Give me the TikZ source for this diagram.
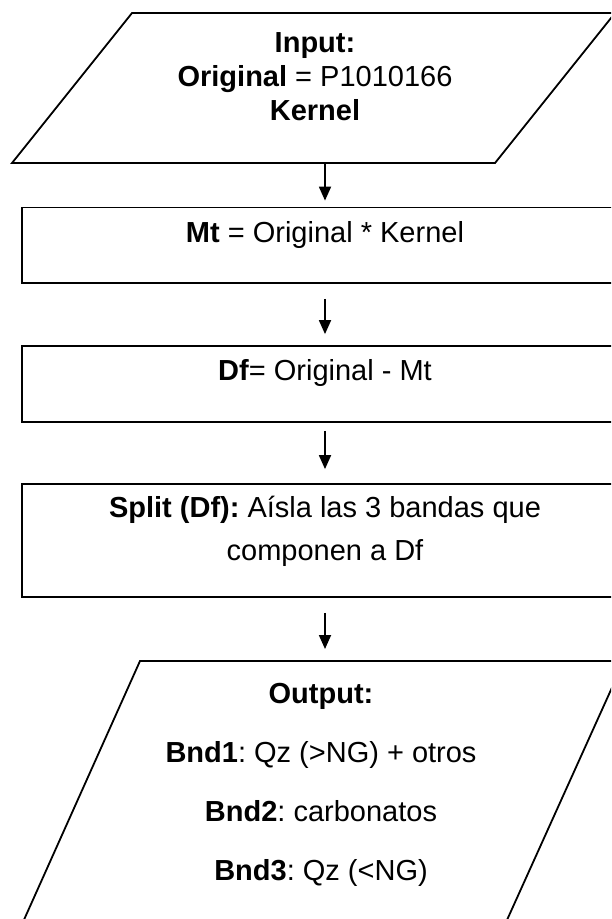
\documentclass[tikz,border=0pt]{standalone}
\usepackage{fontspec}
\setmainfont{Liberation Sans}
\usetikzlibrary{arrows.meta,positioning}

\tikzset{
  box/.style={draw, line width=1.8pt, minimum width=606pt, inner sep=0pt},
  io/.style={draw, line width=1.8pt, line join=miter},
  txt/.style={anchor=north, align=center, inner sep=0pt, font=\fontsize{29}{34}\selectfont},
  arr/.style={-{Triangle[length=14pt,width=12pt]}, line width=1.8pt},
}

\begin{document}
\frenchspacing
\begin{tikzpicture}[x=1pt, y=-1pt]
    \useasboundingbox (0,0) rectangle (611,919);
    \clip (0,0) rectangle (611,919);

    % Input parallelogram
    \coordinate (in-tl) at (132,13);
    \coordinate (in-tr) at (615,13);
    \coordinate (in-br) at (495,163);
    \coordinate (in-bl) at (12,163);
    \draw[io] (in-tl) -- (in-tr) -- (in-br) -- (in-bl) -- cycle;

    % Process boxes
    \node[box, minimum height=75.5pt] (mt) at (325,245.25) {};
    \node[box, minimum height=76pt] (df) at (325,384) {};
    \node[box, minimum height=113pt] (split) at (325,540.5) {};

    % Output parallelogram (runs off the page)
    \coordinate (out-tl) at (140,661);
    \coordinate (out-tr) at (624,661);
    \coordinate (out-br) at (493,951);
    \coordinate (out-bl) at (10,951);
    \draw[io] (out-tl) -- (out-tr) -- (out-br) -- (out-bl) -- cycle;

    % Texts
    \node[txt] (in-txt) at (315,32)
        {\textbf{Input:}\\ \textbf{Original} = P1010166\\ \textbf{Kernel}};
    \node[txt] (mt-txt) at ([yshift=-15pt]mt.north)
        {\textbf{Mt} = Original * Kernel};
    \node[txt] (df-txt) at ([yshift=-14pt]df.north)
        {\textbf{Df}= Original - Mt};
    \node[txt] (split-txt) at ([yshift=-13pt]split.north)
        {\textbf{Split (Df):} Aísla las 3 bandas que\\[9pt] componen a Df};
    \node[txt] (out-txt) at (321,683)
        {\textbf{Output:}\\[25pt] \textbf{Bnd1}: Qz (>NG) + otros\\[25pt]
         \textbf{Bnd2}: carbonatos\\[25pt] \textbf{Bnd3}: Qz (<NG)};

    % Arrows
    \draw[arr, shorten >=6pt] (in-bl -| mt.north) -- (mt.north);
    \draw[arr, shorten <=15pt, shorten >=11pt] (mt.south) -- (df.north);
    \draw[arr, shorten <=8pt, shorten >=14pt] (df.south) -- (split.north);
    \draw[arr, shorten <=15pt, shorten >=12pt] (split.south) -- (split.south |- out-tl);
\end{tikzpicture}
\end{document}
